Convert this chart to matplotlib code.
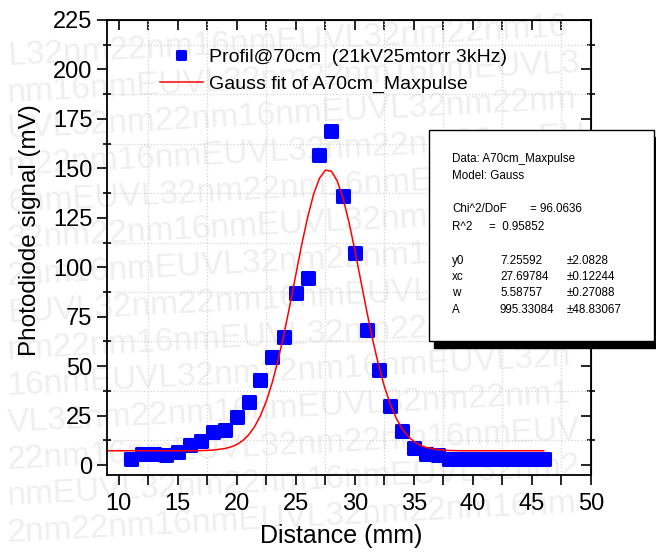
import matplotlib.pyplot as plt
from matplotlib.markers import MarkerStyle
from matplotlib.patches import Rectangle
from matplotlib.ticker import MultipleLocator

plt.rcParams["font.family"] = ["Liberation Sans", "DejaVu Sans"]

# measured profile
distance = list(range(11, 47))
signal = [3, 5.5, 5.5, 5, 6.8, 10.3, 12.1, 16.8, 18, 24.1, 31.7, 43,
          54.8, 64.9, 87.1, 94.8, 157, 169, 135.8, 107, 68.3, 48, 30,
          17.2, 8.4, 5.6, 5.1, 3, 3, 3, 3, 3, 3, 3, 3, 3]

# fit curve
fit_x = [9, 10, 11, 12, 13, 14, 15, 16, 17, 18, 19, 19.5, 20, 20.5, 21,
         21.5, 22, 22.5, 23, 23.5, 24, 24.5, 25, 25.5, 26, 26.5, 27, 27.5,
         28, 28.5, 29, 29.5, 30, 30.5, 31, 31.5, 32, 32.5, 33, 33.5, 34,
         34.5, 35, 35.5, 36, 37, 38, 39, 40, 41, 42, 43, 44, 45, 46]
fit_y = [7.26, 7.26, 7.26, 7.26, 7.26, 7.26, 7.26, 7.26, 7.35, 7.6, 8.4,
         9.2, 10.4, 12.4, 15.3, 19.4, 25.0, 32.4, 41.8, 53.2, 66.4, 81.1,
         96.4, 111.6, 125.4, 136.9, 145.0, 149.1, 148.6, 143.7, 134.8,
         122.7, 108.5, 93.2, 77.9, 63.5, 50.7, 39.7, 30.7, 23.7, 18.4, 14.6,
         11.9, 10.1, 9.0, 7.8, 7.4, 7.26, 7.26, 7.26, 7.26, 7.26, 7.26,
         7.26, 7.26]

fit_report = [
    ("Data: A70cm_Maxpulse", "", ""),
    ("Model: Gauss", "", ""),
    ("", "", ""),
    ("Chi^2/DoF", "", "= 96.0636"),
    ("R^2", "=  0.95852", ""),
    ("", "", ""),
    ("y0", "7.25592", "\u00b12.0828"),
    ("xc", "27.69784", "\u00b10.12244"),
    ("w", "5.58757", "\u00b10.27088"),
    ("A", "995.33084", "\u00b148.83067"),
]

W, H = 656, 552
fig = plt.figure(figsize=(W / 100, H / 100), dpi=100)
fig.patch.set_facecolor("white")

# faint watermark behind everything, each row kept inside the figure
mark = "EUVL32nm22nm16nm" * 4
starts = [3, 10, 1, 7, 13, 4, 9, 0, 6, 12, 2, 8, 14, 5]
for i, s in enumerate(starts):
    fig.text(0.01, 0.925 - i * 0.0665, mark[s:s + 27], fontsize=24,
             color="#efefef", rotation=3, ha="left", va="center", zorder=0)

ax = fig.add_axes([107 / W, 1 - 475 / H, (591 - 107) / W, (475 - 20) / H])
ax.set_facecolor("none")
ax.set_zorder(1)

ax.plot(distance, signal, linestyle="none",
        marker=MarkerStyle("s", joinstyle="round"), markersize=8.5,
        markerfacecolor="#0000ff", markeredgecolor="#0000ff",
        markeredgewidth=2.2, label="Profil@70cm  (21kV25mtorr 3kHz)")
ax.plot(fit_x, fit_y, color="#ff0000", linewidth=1.1,
        label="Gauss fit of A70cm_Maxpulse")

ax.set_xlim(9, 50)
ax.set_ylim(-5, 225)
ax.xaxis.set_major_locator(MultipleLocator(5))
ax.xaxis.set_minor_locator(MultipleLocator(2.5))
ax.yaxis.set_major_locator(MultipleLocator(25))
ax.yaxis.set_minor_locator(MultipleLocator(12.5))
ax.grid(which="minor", linestyle=":", color="#d4d4d4", linewidth=0.9)

ax.tick_params(which="both", labelsize=17, width=1.2)
ax.tick_params(axis="x", which="both", direction="out", length=7, pad=6)
ax.tick_params(axis="y", which="major", direction="out", length=7)
ax.tick_params(axis="y", which="minor", direction="inout", length=6)
for spine in ax.spines.values():
    spine.set_linewidth(1.3)

# top/right ticks point inward like Origin
secx = ax.secondary_xaxis("top")
secx.xaxis.set_major_locator(MultipleLocator(2.5))
secx.tick_params(direction="in", length=7, width=1.2, labeltop=False)
secy = ax.secondary_yaxis("right")
secy.yaxis.set_major_locator(MultipleLocator(25))
secy.yaxis.set_minor_locator(MultipleLocator(12.5))
secy.tick_params(which="major", direction="in", length=7, width=1.2,
                 labelright=False)
secy.tick_params(which="minor", direction="inout", length=6, width=1.2)

ax.set_xlabel("Distance (mm)", fontsize=18)
ax.set_ylabel("Photodiode signal (mV)", fontsize=17.5)
ax.xaxis.set_label_coords(0.483, -0.134)
ax.yaxis.set_label_coords(-0.159, 0.538)
ax.xaxis.label.set_va("center")
ax.yaxis.label.set_va("center")

ax.legend(loc="upper left", bbox_to_anchor=(160 / W, 1 - 48 / H),
          bbox_transform=fig.transFigure, frameon=False, fontsize=14,
          handlelength=2.2, handletextpad=0.3, labelspacing=0.5,
          borderpad=0, borderaxespad=0, markerscale=0.6)

# fit report box with drop shadow
bx0, bx1, by0, by1 = 429, 654, 130, 341
shadow = Rectangle(((bx0 + 5) / W, 1 - (by1 + 7) / H), (bx1 - bx0) / W,
                   (by1 - by0) / H, transform=fig.transFigure,
                   facecolor="black", edgecolor="black", zorder=5)
box = Rectangle((bx0 / W, 1 - by1 / H), (bx1 - bx0) / W, (by1 - by0) / H,
                transform=fig.transFigure, facecolor="white",
                edgecolor="black", linewidth=1.0, zorder=6)
fig.patches.extend([shadow, box])

row_y = [159, 176, 192, 209, 227, 244, 261, 277, 293, 310]
for (lab, val, err), y in zip(fit_report, row_y):
    if lab:
        fig.text(452 / W, 1 - y / H, lab, fontsize=8.4, va="center", zorder=7)
    if val:
        vx = 489 if lab == "R^2" else 500
        fig.text(vx / W, 1 - y / H, val, fontsize=8.4, va="center", zorder=7)
    if err:
        ex = 530 if lab.startswith("Chi") else 567
        fig.text(ex / W, 1 - y / H, err, fontsize=8.4, va="center", zorder=7)

fig.savefig("out.png", dpi=100)
